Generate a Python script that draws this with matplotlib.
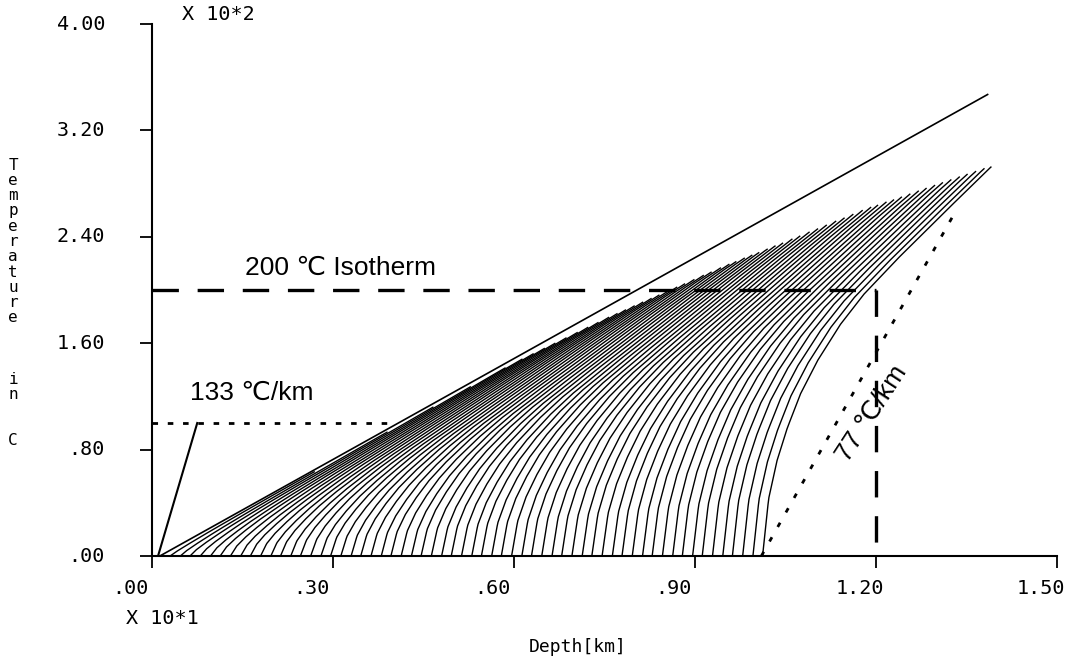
import numpy as np
import matplotlib
matplotlib.use("Agg")
import matplotlib.pyplot as plt

# axis units as printed on the plot: depth x 10 km, temperature x 100 C
x_ticks = [0.0, 0.3, 0.6, 0.9, 1.2, 1.5]
x_tick_labels = [".00", ".30", ".60", ".90", "1.20", "1.50"]
y_ticks = [0.0, 0.8, 1.6, 2.4, 3.2, 4.0]
y_tick_labels = [".00", ".80", "1.60", "2.40", "3.20", "4.00"]

# upper solid line (steady geotherm)
steady_depth = [0.013, 1.385]
steady_temp = [0.0, 3.47]

# depth where each curve of the fan starts at T = 0
curve_start = [0.030, 0.047, 0.063, 0.080, 0.097, 0.113, 0.130, 0.147, 0.163, 0.180,
               0.197, 0.213, 0.230, 0.246, 0.263, 0.280, 0.296, 0.313, 0.330, 0.346,
               0.363, 0.380, 0.396, 0.413, 0.430, 0.446, 0.463, 0.480, 0.496, 0.513,
               0.530, 0.546, 0.563, 0.579, 0.596, 0.613, 0.629, 0.646, 0.663, 0.679,
               0.696, 0.713, 0.729, 0.746, 0.763, 0.779, 0.796, 0.813, 0.829, 0.846,
               0.863, 0.879, 0.896, 0.912, 0.929, 0.946, 0.962, 0.979, 0.996, 1.012]

# how far a curve stays below the steady line (fraction of its start deficit),
# read off the right-most curve against distance from its start
deficit_dist = [0.0, 0.010, 0.024, 0.041, 0.063, 0.091, 0.129, 0.167, 0.223, 0.30, 0.373, 0.45, 0.60, 0.80, 1.20]
deficit_frac = [1.0, 0.84, 0.74, 0.66, 0.58, 0.51, 0.44, 0.39, 0.34, 0.28, 0.225, 0.175, 0.11, 0.05, 0.0]

# top edge of the fan, where the curves stop
fan_edge_depth = [0.013, 0.30, 0.60, 0.76, 0.86, 0.95, 1.05, 1.18, 1.385]
fan_edge_temp = [0.0, 0.71, 1.45, 1.80, 2.00, 2.18, 2.36, 2.60, 2.92]

isotherm_temp = 2.0
isotherm_depth = 1.2
grad133_depth = [0.010, 0.075]
grad133_temp = [0.0, 1.0]
grad133_ref_end = 0.39
grad77_depth = [1.010, 1.328]
grad77_temp = [0.0, 2.56]

W, H = 1070, 660
plt.rcParams['lines.scale_dashes'] = False
mono = 'DejaVu Sans Mono'
sans = ['Liberation Sans', 'DejaVu Sans']

fig = plt.figure(figsize=(W / 100, H / 100), dpi=100)
ax = fig.add_axes([152 / W, 104 / H, 905 / W, 532 / H])
ax.set_xlim(0, 1.5)
ax.set_ylim(0, 4.0)

slope = (steady_temp[1] - steady_temp[0]) / (steady_depth[1] - steady_depth[0])

def steady(z):
    return steady_temp[0] + slope * (np.asarray(z) - steady_depth[0])

# fan of transient curves, each one stops at the fan edge
for s in curve_start:
    z = s + np.linspace(0, 1.2, 800)
    T = steady(z) - steady(s) * np.interp(z - s, deficit_dist, deficit_frac)
    edge = np.interp(z, fan_edge_depth, fan_edge_temp)
    hit = np.nonzero(T[1:] >= edge[1:])[0]
    n = hit[0] + 2 if len(hit) else len(z)
    ax.plot(z[:n], T[:n], color='black', lw=1.0)

ax.plot(steady_depth, steady_temp, color='black', lw=1.2)

# 200 C isotherm and its depth
dash = (0, (19, 13.5))
ax.plot([0, isotherm_depth], [isotherm_temp, isotherm_temp], color='black', lw=2.4,
        linestyle=dash)
ax.plot([isotherm_depth, isotherm_depth], [isotherm_temp, 0], color='black', lw=2.4,
        linestyle=dash)
fig.text(245 / W, 1 - 268 / H, '200 \u2103 Isotherm', family=sans, fontsize=19, va='center')

# 133 C/km gradient
ax.plot(grad133_depth, grad133_temp, color='black', lw=1.5)
ax.plot([0, grad133_ref_end], [grad133_temp[1]] * 2, color='black', lw=2.0,
        linestyle=(0, (4, 7)))
fig.text(190 / W, 1 - 393 / H, '133 \u2103/km', family=sans, fontsize=19, va='center')

# 77 C/km gradient
ax.plot(grad77_depth, grad77_temp, color='black', lw=2.0, linestyle=(0, (3.5, 8.5)))
fig.text(872 / W, 1 - 413 / H, '77 \u2103/km', family=sans, fontsize=19,
         rotation=57, ha='center', va='center', rotation_mode='anchor')

# axes in the old plotter style
for side in ['top', 'right']:
    ax.spines[side].set_visible(False)
ax.spines['left'].set_linewidth(1.5)
ax.spines['bottom'].set_linewidth(1.5)
ax.set_xticks(x_ticks)
ax.set_yticks(y_ticks)
ax.set_xticklabels([])
ax.set_yticklabels([])
ax.tick_params(direction='out', length=8.6, width=1.3)

for v, lbl in zip(x_ticks, x_tick_labels):
    ax.annotate(lbl, xy=(v, 0), xytext=(-40, -32), textcoords='offset pixels',
                ha='left', va='center', family=mono, fontsize=14.5)
for v, lbl in zip(y_ticks, y_tick_labels):
    ax.annotate(lbl, xy=(0, v), xytext=(-47, 0), textcoords='offset pixels',
                ha='right', va='center', family=mono, fontsize=14.5)

fig.text(182 / W, 1 - 15 / H, 'X 10*2', family=mono, fontsize=14.5, va='center')
fig.text(126 / W, 1 - 618 / H, 'X 10*1', family=mono, fontsize=14.5, va='center')
fig.text(529 / W, 1 - 647 / H, 'Depth[km]', family=mono, fontsize=13, va='center')

ylabel = 'Temperature   in  C'
for i, ch in enumerate(ylabel):
    fig.text(13 / W, 1 - (165 + 15.3 * i) / H, ch, family=mono, fontsize=11.5,
             ha='center', va='center')

fig.savefig('out.png', dpi=100)
